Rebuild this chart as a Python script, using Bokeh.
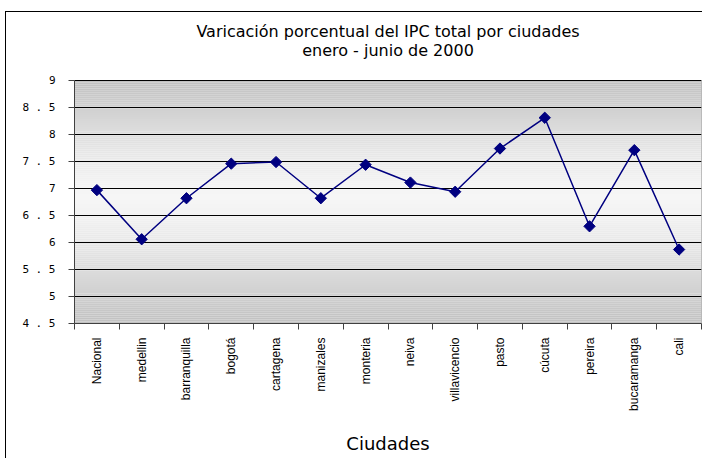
import numpy as np
from bokeh.plotting import figure
from bokeh.models import FixedTicker, Label, ColumnDataSource, Range1d
from bokeh.embed import file_html
from bokeh.resources import INLINE

ciudades = ["Nacional", "medellin", "barranquilla", "bogotá", "cartagena", "manizales",
            "monteria", "neiva", "villavicencio", "pasto", "cúcuta", "pereira",
            "bucaramanga", "cali"]
ipc = [6.97, 6.06, 6.82, 7.46, 7.49, 6.82, 7.44, 7.11, 6.94, 7.74, 8.31, 6.30, 7.71, 5.87]
y_ticks = [4.5, 5, 5.5, 6, 6.5, 7, 7.5, 8, 8.5, 9]
y_tick_labels = ["4 . 5", "5", "5 . 5", "6", "6 . 5", "7", "7 . 5", "8", "8 . 5", "9"]
title_1 = "Varicación porcentual del IPC total por ciudades"
title_2 = "enero - junio de 2000"
x_title = "Ciudades"

n = len(ciudades)
xc = [i + 0.5 for i in range(n)]
ymin, ymax = y_ticks[0], y_ticks[-1]

# leave room above the value range (inside the frame) for the two title lines
H, BOTTOM, TITLE_SPACE = 447, 136, 68
plot_px = H - BOTTOM - TITLE_SPACE
ytop = ymax + (ymax - ymin) * TITLE_SPACE / plot_px

p = figure(width=697, height=H, output_backend="svg", toolbar_location=None,
           x_range=Range1d(0, n), y_range=Range1d(ymin, ytop),
           min_border_left=68, min_border_right=2, min_border_top=0, min_border_bottom=BOTTOM,
           styles={"border-left": "1px solid black", "border-top": "1px solid black"},
           margin=(11, 0, 0, 5))
p.outline_line_color = None
p.background_fill_color = "white"

# gradient background of the plot area
edges = np.linspace(ymin, ymax, 121)
mids = (edges[:-1] + edges[1:]) / 2
center = 6.85
cols = []
for m in mids:
    t = abs(m - center) / (ymax - center if m > center else center - ymin)
    v = int(round(246 - (246 - 192) * t ** 1.3))
    cols.append("#%02x%02x%02x" % (v, v, v))
bg = ColumnDataSource(dict(bottom=edges[:-1], top=edges[1:], c=cols))
p.quad(left=0, right=n, bottom="bottom", top="top", fill_color="c", line_color=None,
       source=bg, level="image")
p.quad(left=0, right=n, bottom=ymin, top=ymax, fill_color=None, line_color="#808080",
       line_width=1, level="image")

src = ColumnDataSource(dict(x=xc, y=ipc))
p.line("x", "y", source=src, line_color="#000080", line_width=1.5)
p.scatter("x", "y", source=src, marker="square", angle=np.pi / 4, size=8,
          fill_color="#000080", line_color="#000080")

p.xgrid.visible = False
p.ygrid.ticker = FixedTicker(ticks=y_ticks)
p.ygrid.grid_line_color = "black"
p.ygrid.grid_line_width = 1

p.yaxis.ticker = FixedTicker(ticks=y_ticks)
p.yaxis.bounds = (ymin, ymax)
p.yaxis.major_label_overrides = {t: l for t, l in zip(y_ticks, y_tick_labels)}
p.yaxis.major_label_text_font = "DejaVu Sans Mono"
p.yaxis.major_label_text_font_size = "11px"
p.yaxis.major_label_text_color = "black"
p.yaxis.major_tick_out = 6
p.yaxis.major_tick_in = 0
p.yaxis.minor_tick_line_color = None
p.yaxis.axis_line_color = "#404040"
p.yaxis.major_tick_line_color = "#404040"
p.yaxis.major_label_standoff = 13

p.xaxis.ticker = FixedTicker(ticks=xc, minor_ticks=list(range(n + 1)))
p.xaxis.major_label_overrides = {x: c for x, c in zip(xc, ciudades)}
p.xaxis.major_label_orientation = np.pi / 2
p.xaxis.major_label_text_font = "Liberation Sans"
p.xaxis.major_label_text_font_size = "12px"
p.xaxis.major_label_text_color = "black"
p.xaxis.major_tick_line_color = None
p.xaxis.minor_tick_out = 6
p.xaxis.minor_tick_in = 0
p.xaxis.minor_tick_line_color = "#404040"
p.xaxis.axis_line_color = "#404040"
p.xaxis.major_label_standoff = 8
p.xaxis.axis_label = x_title
p.xaxis.axis_label_text_font = "DejaVu Sans"
p.xaxis.axis_label_text_font_size = "18px"
p.xaxis.axis_label_text_font_style = "normal"
p.xaxis.axis_label_text_color = "black"
p.xaxis.axis_label_standoff = 19

for txt, off in ((title_1, 49), (title_2, 30)):
    p.add_layout(Label(x=n / 2, y=ymax, y_offset=off, text=txt, text_align="center",
                       text_baseline="middle", text_font="DejaVu Sans",
                       text_font_size="16px", text_color="black"))

open("out.html", "w").write(file_html(p, INLINE))
